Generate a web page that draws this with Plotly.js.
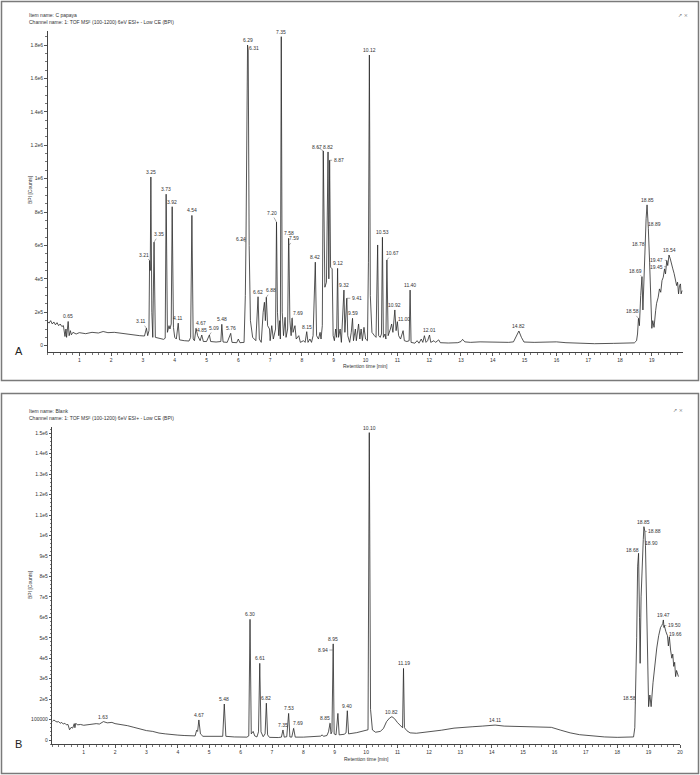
<!DOCTYPE html>
<html>
<head>
<meta charset="utf-8">
<script src="https://cdn.plot.ly/plotly-3.0.1.min.js"></script>
<style>
  html, body { margin: 0; padding: 0; background: #fff; }
  #chart { width: 700px; height: 775px; }
</style>
</head>
<body>
<div id="chart"></div>
<script>
// BPI chromatograms, C. papaya extract (A) and blank (B)
const tA = [
  0, 0.05, 0.10, 0.15, 0.20, 0.25, 0.30, 0.35, 0.40, 0.45,
  0.50, 0.55, 0.58, 0.60, 0.65, 0.68, 0.72, 0.75, 0.80, 0.90,
  1.00, 1.20, 1.40, 1.60, 1.75, 1.90, 2.10, 2.30, 2.50, 2.70,
  2.90, 3.05,
  3.11, 3.15, 3.19, 3.21, 3.23, 3.25, 3.28, 3.31, 3.35, 3.39,
  3.50, 3.65, 3.70, 3.73, 3.77, 3.82, 3.85, 3.89, 3.92, 3.96,
  4.00, 4.05, 4.11, 4.15, 4.30, 4.45, 4.50, 4.54, 4.58, 4.62,
  4.67, 4.72, 4.80, 4.85, 4.90, 5.00, 5.09, 5.13, 5.30, 5.45,
  5.48, 5.52, 5.65, 5.76, 5.80, 5.95, 6.00, 6.05, 6.18, 6.22,
  6.24, 6.27, 6.29, 6.31, 6.34, 6.38, 6.45, 6.55, 6.62, 6.66,
  6.72, 6.78, 6.82, 6.85, 6.88, 6.92, 6.98, 7.00, 7.05, 7.10,
  7.17, 7.20, 7.23, 7.27, 7.30, 7.32, 7.35, 7.38, 7.42, 7.47,
  7.50, 7.55, 7.58, 7.59, 7.62, 7.66, 7.69, 7.72, 7.78, 7.82,
  7.90, 7.95, 8.05, 8.10, 8.15, 8.19, 8.25, 8.30, 8.35, 8.42,
  8.46, 8.52, 8.57, 8.60, 8.64, 8.67, 8.72, 8.77, 8.82, 8.845,
  8.87, 8.90, 8.95, 8.98, 9.02, 9.06, 9.09, 9.12, 9.15, 9.20,
  9.24, 9.28, 9.32, 9.35, 9.38, 9.41, 9.44, 9.50, 9.55, 9.59,
  9.62, 9.68, 9.71, 9.78, 9.82, 9.86, 9.90, 9.95, 10.00, 10.06,
  10.09, 10.12, 10.15, 10.20, 10.28, 10.33, 10.38, 10.41, 10.46, 10.50,
  10.53, 10.56, 10.61, 10.64, 10.67, 10.71, 10.78, 10.82, 10.86, 10.92,
  10.96, 11.00, 11.04, 11.10, 11.18, 11.22, 11.30, 11.37, 11.40, 11.43,
  11.55, 11.62, 11.68, 11.75, 11.80, 11.85, 11.90, 11.95, 12.01, 12.05,
  12.15, 12.20, 12.30, 12.35, 12.60, 12.90, 13.00, 13.05, 13.12, 13.30,
  13.60, 13.90, 14.20, 14.50, 14.65, 14.75, 14.82, 14.90, 14.98, 15.30,
  15.70, 16.00, 16.30, 16.70, 17.20, 17.80, 18.20, 18.45, 18.52, 18.55,
  18.58, 18.61, 18.65, 18.69, 18.72, 18.75, 18.78, 18.82, 18.85, 18.87,
  18.89, 18.93, 18.96, 19.00, 19.03, 19.07, 19.12, 19.15, 19.20, 19.24,
  19.28, 19.32, 19.36, 19.40, 19.43, 19.45, 19.47, 19.50, 19.54, 19.58,
  19.62, 19.66, 19.70, 19.74, 19.78, 19.81, 19.84, 19.87, 19.90, 19.92,
  19.95
];
const iA = [
  145e3, 135e3, 150e3, 130e3, 142e3, 125e3, 138e3, 120e3, 130e3, 115e3,
  120e3, 55e3, 100e3, 50e3, 145e3, 60e3, 90e3, 65e3, 80e3, 70e3,
  78e3, 72e3, 80e3, 76e3, 85e3, 78e3, 80e3, 74e3, 70e3, 66e3,
  60e3, 58e3,
  105e3, 60e3, 90e3, 510e3, 450e3, 1010e3, 200e3, 50e3, 620e3, 50e3,
  45e3, 38e3, 45e3, 907e3, 80e3, 120e3, 100e3, 130e3, 832e3, 110e3,
  50e3, 40e3, 135e3, 35e3, 30e3, 28e3, 50e3, 780e3, 40e3, 30e3,
  104e3, 60e3, 30e3, 64e3, 25e3, 25e3, 64e3, 25e3, 22e3, 25e3,
  128e3, 22e3, 20e3, 74e3, 20e3, 18e3, 40e3, 18e3, 20e3, 300e3,
  620e3, 1400e3, 1800e3, 1770e3, 600e3, 150e3, 50e3, 30e3, 293e3, 40e3,
  20e3, 200e3, 260e3, 150e3, 290e3, 120e3, 100e3, 30e3, 120e3, 40e3,
  100e3, 740e3, 200e3, 60e3, 150e3, 40e3, 1850e3, 200e3, 60e3, 170e3,
  50e3, 100e3, 643e3, 600e3, 150e3, 60e3, 165e3, 80e3, 120e3, 40e3,
  60e3, 20e3, 30e3, 20e3, 84e3, 20e3, 40e3, 20e3, 60e3, 500e3,
  60e3, 40e3, 80e3, 40e3, 120e3, 1166e3, 350e3, 380e3, 1160e3, 400e3,
  1110e3, 470e3, 460e3, 60e3, 30e3, 100e3, 50e3, 463e3, 50e3, 100e3,
  20e3, 150e3, 333e3, 80e3, 200e3, 284e3, 60e3, 20e3, 80e3, 164e3,
  30e3, 100e3, 30e3, 130e3, 40e3, 100e3, 30e3, 110e3, 40e3, 30e3,
  500e3, 1740e3, 300e3, 80e3, 60e3, 50e3, 603e3, 60e3, 50e3, 70e3,
  649e3, 50e3, 70e3, 40e3, 513e3, 60e3, 100e3, 130e3, 80e3, 214e3,
  90e3, 144e3, 60e3, 40e3, 90e3, 30e3, 25e3, 30e3, 333e3, 20e3,
  15e3, 30e3, 15e3, 40e3, 20e3, 60e3, 20e3, 30e3, 64e3, 20e3,
  30e3, 20e3, 35e3, 18e3, 16e3, 18e3, 25e3, 38e3, 23e3, 20e3,
  23e3, 21e3, 20e3, 20e3, 23e3, 65e3, 88e3, 50e3, 22e3, 20e3,
  22e3, 23e3, 18e3, 14e3, 12e3, 14e3, 15e3, 17e3, 30e3, 70e3,
  164e3, 120e3, 300e3, 413e3, 214e3, 400e3, 593e3, 760e3, 843e3, 780e3,
  703e3, 500e3, 250e3, 104e3, 150e3, 110e3, 210e3, 254e3, 290e3, 340e3,
  320e3, 390e3, 410e3, 460e3, 430e3, 473e3, 510e3, 480e3, 543e3, 520e3,
  480e3, 460e3, 433e3, 400e3, 360e3, 380e3, 310e3, 360e3, 370e3, 310e3,
  330e3
];

const tB = [
  0, 0.05, 0.10, 0.15, 0.20, 0.25, 0.30, 0.35, 0.40, 0.45,
  0.50, 0.55, 0.60, 0.65, 0.70, 0.72, 0.75, 0.80, 0.90, 1.00,
  1.20, 1.40, 1.50, 1.63, 1.75, 1.90, 2.00, 2.20, 2.40, 2.60,
  2.80, 3.00, 3.20, 3.40, 3.60, 3.80, 4.00, 4.20, 4.40, 4.55,
  4.60, 4.63, 4.67, 4.72, 4.80, 5.20, 5.43, 5.48, 5.53, 5.80,
  6.20, 6.26, 6.30, 6.34, 6.40, 6.45, 6.52, 6.57, 6.61, 6.65,
  6.72, 6.78, 6.82, 6.86, 6.92, 7.20, 7.30, 7.35, 7.39, 7.47,
  7.53, 7.57, 7.63, 7.69, 7.74, 8.00, 8.30, 8.55, 8.60, 8.64,
  8.75, 8.80, 8.85, 8.88, 8.91, 8.94, 8.95, 8.98, 9.04, 9.10, 9.14,
  9.30, 9.36, 9.40, 9.44, 9.70, 10.00, 10.06, 10.10, 10.14, 10.20,
  10.30, 10.45, 10.55, 10.65, 10.75, 10.82, 10.90, 11.00, 11.10, 11.16,
  11.19, 11.22, 11.30, 11.40, 11.60, 12.00, 12.40, 12.80, 13.10, 13.40,
  13.70, 14.11, 14.40, 14.80, 15.20, 15.60, 15.90, 16.20, 16.50, 16.80,
  17.20, 17.60, 18.00, 18.40, 18.52, 18.56, 18.58, 18.62, 18.65, 18.68,
  18.71, 18.73, 18.76, 18.80, 18.83, 18.85, 18.88, 18.90, 18.94, 18.98,
  19.00, 19.04, 19.08, 19.14, 19.20, 19.26, 19.32, 19.38, 19.42, 19.45,
  19.47, 19.49, 19.50, 19.55, 19.60, 19.63, 19.66, 19.70, 19.74, 19.77,
  19.80, 19.83, 19.86, 19.89, 19.92, 19.95
];
const iB = [
  90e3, 98e3, 92e3, 88e3, 90e3, 82e3, 86e3, 78e3, 82e3, 74e3,
  76e3, 50e3, 62e3, 58e3, 80e3, 60e3, 82e3, 74e3, 76e3, 72e3,
  76e3, 80e3, 78e3, 90e3, 84e3, 86e3, 80e3, 76e3, 70e3, 62e3,
  54e3, 46e3, 42e3, 34e3, 30e3, 26e3, 24e3, 22e3, 20e3, 20e3,
  48e3, 42e3, 98e3, 30e3, 18e3, 16e3, 18e3, 176e3, 18e3, 15e3,
  14e3, 20e3, 590e3, 30e3, 42e3, 20e3, 15e3, 40e3, 375e3, 40e3,
  16e3, 30e3, 180e3, 25e3, 13e3, 12e3, 14e3, 49e3, 14e3, 16e3,
  130e3, 15e3, 14e3, 57e3, 14e3, 14e3, 16e3, 19e3, 25e3, 18e3,
  22e3, 40e3, 82e3, 30e3, 40e3, 440e3, 470e3, 30e3, 25e3, 130e3, 25e3,
  28e3, 35e3, 143e3, 30e3, 36e3, 45e3, 50e3, 1503e3, 150e3, 49e3,
  38e3, 42e3, 56e3, 90e3, 108e3, 114e3, 105e3, 85e3, 70e3, 60e3,
  350e3, 60e3, 45e3, 35e3, 33e3, 39e3, 48e3, 58e3, 63e3, 65e3,
  68e3, 73e3, 68e3, 66e3, 62e3, 60e3, 62e3, 48e3, 35e3, 26e3,
  19e3, 15e3, 13e3, 12e3, 15e3, 60e3, 180e3, 500e3, 850e3, 913e3,
  600e3, 375e3, 700e3, 940e3, 980e3, 1043e3, 1020e3, 950e3, 600e3, 300e3,
  163e3, 220e3, 163e3, 280e3, 380e3, 450e3, 510e3, 550e3, 560e3, 570e3,
  587e3, 550e3, 560e3, 530e3, 510e3, 460e3, 505e3, 440e3, 400e3, 420e3,
  360e3, 380e3, 310e3, 340e3, 320e3, 310e3
];

// peak labels (retention times printed on the traces)
const peaksA = ['0.65', '3.11', '3.21', '3.25', '3.35', '3.73', '3.92', '4.11', '4.54', '4.67',
  '4.85', '5.09', '5.48', '5.76', '6.24', '6.29', '6.31', '6.62', '6.88', '7.20', '7.35',
  '7.58', '7.59', '7.69', '8.15', '8.42', '8.67', '8.82', '8.87', '9.12', '9.32', '9.41',
  '9.59', '10.12', '10.53', '10.67', '10.92', '11.00', '11.40', '12.01', '14.82', '18.58',
  '18.69', '18.78', '18.85', '18.89', '19.45', '19.47', '19.54'];
const peaksB = ['1.63', '4.67', '5.48', '6.30', '6.61', '6.82', '7.35', '7.53', '7.69', '8.85',
  '8.94', '8.95', '9.40', '10.10', '10.82', '11.19', '14.11', '18.58', '18.68', '18.85',
  '18.88', '18.90', '19.47', '19.50', '19.66'];

// axis ticks
const xTicksA = [1, 2, 3, 4, 5, 6, 7, 8, 9, 10, 11, 12, 13, 14, 15, 16, 17, 18, 19];
const xTicksB = [1, 2, 3, 4, 5, 6, 7, 8, 9, 10, 11, 12, 13, 14, 15, 16, 17, 18, 19, 20];
const yTicksA = [0, 2e5, 4e5, 6e5, 8e5, 1e6, 1.2e6, 1.4e6, 1.6e6, 1.8e6];
const yTextA = ['0', '2e5', '4e5', '6e5', '8e5', '1e6', '1.2e6', '1.4e6', '1.6e6', '1.8e6'];
const yTicksB = [0, 1e5, 2e5, 3e5, 4e5, 5e5, 6e5, 7e5, 8e5, 9e5, 1e6, 1.1e6, 1.2e6, 1.3e6, 1.4e6, 1.5e6];
const yTextB = ['0', '100000', '2e5', '3e5', '4e5', '5e5', '6e5', '7e5', '8e5', '9e5', '1e6',
  '1.1e6', '1.2e6', '1.3e6', '1.4e6', '1.5e6'];

const CHANNEL = 'Channel name: 1: TOF MSᴱ (100-1200) 6eV ESI+ - Low CE (BPI)';

// label offsets (px) for the ones drawn with a small leader line
const offA = {
  '3.11': [-5, -7], '3.21': [-6, -6], '3.35': [5, -8], '4.67': [5, -5], '5.09': [5, -7],
  '6.24': [-5, -3], '6.31': [6, -2], '6.88': [5, -7], '7.20': [-5, -9], '7.59': [5, -7],
  '7.69': [6, -5], '8.67': [-6, -4], '8.87': [9, 0], '9.41': [10, 0], '10.67': [6, -7],
  '11.00': [7, -3], '18.58': [-6, -7], '18.69': [-6, -6], '18.78': [-6, -3], '18.89': [6, -4],
  '19.45': [-10, 0], '19.47': [-10, -1]
};
const offB = {
  '7.69': [4, -5], '8.85': [-5, -5], '8.94': [-10, 0], '18.58': [-6, -5], '18.68': [-6, -3],
  '18.88': [10, 0], '18.90': [6, -3], '19.50': [10, 0], '19.66': [6, -3]
};

const W = 700, H = 775;
const px = x => x / W, py = y => 1 - y / H;
const FONT = 'Liberation Sans, Arial, sans-serif';
const INK = '#333';

function xAxis(l, r, range, ticks, anchor) {
  return {
    domain: [px(l), px(r)], range, anchor,
    tickmode: 'array', tickvals: ticks, ticktext: ticks.map(String),
    ticks: 'outside', ticklen: 3, tickcolor: '#555', tickwidth: 1,
    showline: true, linecolor: '#444', linewidth: 1,
    showgrid: false, zeroline: false,
    tickfont: { size: 5, color: INK, family: FONT },
    minor: { tickmode: 'linear', tick0: 0, dtick: 0.2, ticks: 'outside', ticklen: 1.5, tickcolor: '#777', showgrid: false }
  };
}
function yAxis(bot, top, range, vals, text, minorStep, anchor) {
  return {
    domain: [py(bot), py(top)], range, anchor,
    tickmode: 'array', tickvals: vals, ticktext: text,
    ticks: 'outside', ticklen: 2.5, tickcolor: '#555', tickwidth: 1,
    showline: true, linecolor: '#444', linewidth: 1,
    showgrid: false, zeroline: false,
    tickfont: { size: 5, color: INK, family: FONT },
    minor: { tickmode: 'linear', tick0: 0, dtick: minorStep, ticks: 'outside', ticklen: 1.5, tickcolor: '#777', showgrid: false }
  };
}

function peakLabels(list, ts, vs, offs, xr, yr) {
  return list.map(s => {
    const t = +s;
    const k = ts.findIndex(v => Math.abs(v - t) < 1e-6);
    const a = { x: t, y: vs[k], xref: xr, yref: yr, text: s,
      font: { size: 5, color: INK, family: FONT } };
    const o = offs[s];
    if (o) Object.assign(a, { showarrow: true, arrowhead: 0, arrowwidth: 0.5, arrowcolor: '#555',
      ax: o[0], ay: o[1], standoff: 0 });
    else Object.assign(a, { showarrow: false, yanchor: 'bottom', yshift: 0 });
    return a;
  });
}

function txt(x, y, s, extra) {
  return Object.assign({ xref: 'paper', yref: 'paper', x: px(x), y: py(y), text: s, showarrow: false,
    xanchor: 'left', yanchor: 'middle', font: { size: 5, color: INK, family: FONT } }, extra || {});
}

const ICON = { xanchor: 'center', font: { size: 5, color: '#777', family: 'DejaVu Sans' } };
const ann = [
  txt(27, 15, 'Item name: C papaya'),
  txt(27, 22, CHANNEL),
  txt(683, 15, '↗ ×', ICON),
  txt(365, 366, 'Retention time [min]', { xanchor: 'center' }),
  txt(30, 190, 'BPI [Counts]', { xanchor: 'center', textangle: -90 }),
  txt(18.5, 351, 'A', { xanchor: 'center', font: { size: 11, color: '#222', family: FONT } }),

  txt(27, 411, 'Item name: Blank'),
  txt(27, 418, CHANNEL),
  txt(678, 410, '↗ ×', ICON),
  txt(366, 759, 'Retention time [min]', { xanchor: 'center' }),
  txt(30, 585, 'BPI [Counts]', { xanchor: 'center', textangle: -90 }),
  txt(18.5, 744, 'B', { xanchor: 'center', font: { size: 11, color: '#222', family: FONT } })
].concat(
  peakLabels(peaksA, tA, iA, offA, 'x', 'y'),
  peakLabels(peaksB, tB, iB, offB, 'x2', 'y2')
);

const frame = (y0, y1) => ({ type: 'rect', xref: 'paper', yref: 'paper',
  x0: px(1.5), x1: px(698.5), y0: py(y1), y1: py(y0), line: { color: '#7a7a7a', width: 1.5 } });

const line = { color: '#2a2a2a', width: 0.8 };
const traces = [
  { x: tA, y: iA, xaxis: 'x', yaxis: 'y', mode: 'lines', line, hoverinfo: 'skip' },
  { x: tB, y: iB, xaxis: 'x2', yaxis: 'y2', mode: 'lines', line, hoverinfo: 'skip' }
];

const layout = {
  width: W, height: H,
  margin: { l: 0, r: 0, t: 0, b: 0 },
  paper_bgcolor: '#fff', plot_bgcolor: '#fff',
  showlegend: false,
  font: { family: FONT, size: 5, color: INK },
  xaxis: xAxis(47.5, 683, [0, 19.98], xTicksA, 'y'),
  yaxis: yAxis(352.3, 31, [-39500, 1884000], yTicksA, yTextA, 5e4, 'x'),
  xaxis2: xAxis(52.3, 680, [0, 20], xTicksB, 'y2'),
  yaxis2: yAxis(744.3, 426.7, [-21000, 1532000], yTicksB, yTextB, 2e4, 'x2'),
  annotations: ann,
  shapes: [frame(1.5, 380.5), frame(393.5, 773.5)]
};

Plotly.newPlot('chart', traces, layout, { displayModeBar: false, staticPlot: true });
</script>
</body>
</html>
